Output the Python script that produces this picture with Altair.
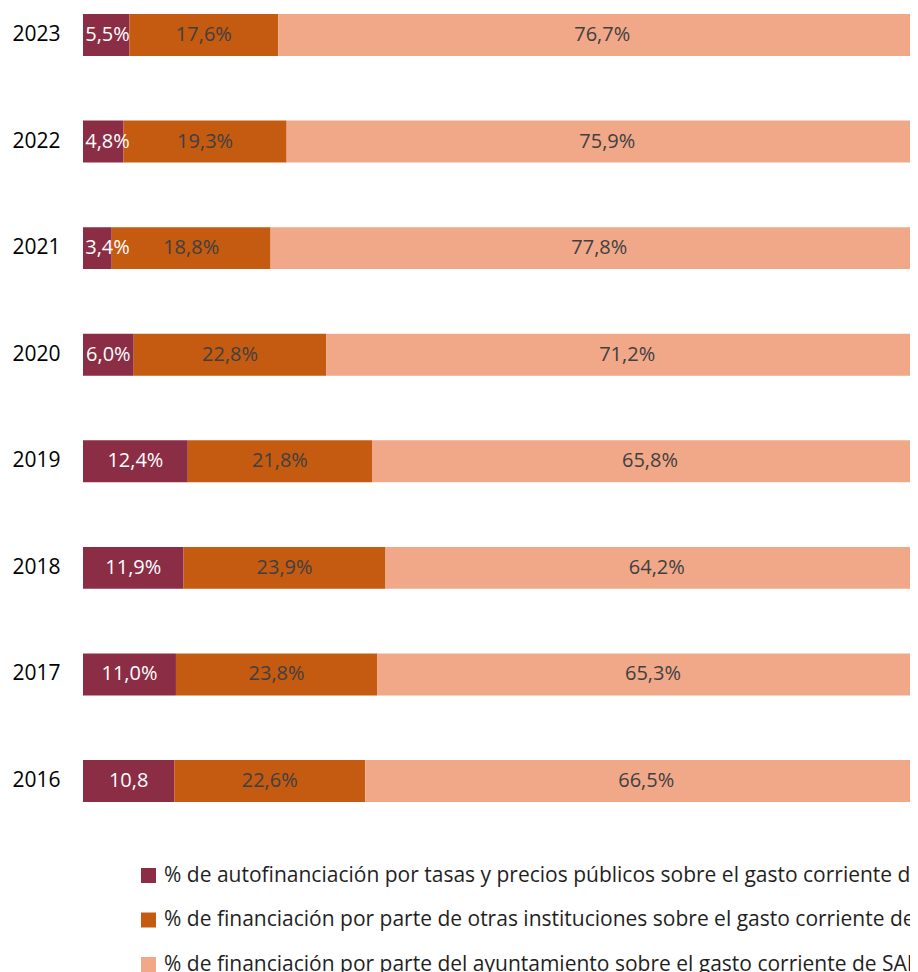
import altair as alt
import pandas as pd

years = ["2023", "2022", "2021", "2020", "2019", "2018", "2017", "2016"]
series = [
    "% de autofinanciación por tasas y precios públicos sobre el gasto corriente de SAMU",
    "% de financiación por parte de otras instituciones sobre el gasto corriente de SAMU",
    "% de financiación por parte del ayuntamiento sobre el gasto corriente de SAMU",
]
auto = [5.5, 4.8, 3.4, 6.0, 12.4, 11.9, 11.0, 10.8]
otras = [17.6, 19.3, 18.8, 22.8, 21.8, 23.9, 23.8, 22.6]
ayto = [76.7, 75.9, 77.8, 71.2, 65.8, 64.2, 65.3, 66.5]
auto_labels = ["5,5%", "4,8%", "3,4%", "6,0%", "12,4%", "11,9%", "11,0%", "10,8"]
colors = ["#8B2D45", "#C55A11", "#F1A889"]

def fmt(v):
    return f"{v:.1f}".replace(".", ",") + "%"

rows = []
for i, y in enumerate(years):
    rows.append({"year": y, "serie": series[0], "order": 0, "value": auto[i], "label": auto_labels[i]})
    rows.append({"year": y, "serie": series[1], "order": 1, "value": otras[i], "label": fmt(otras[i])})
    rows.append({"year": y, "serie": series[2], "order": 2, "value": ayto[i], "label": fmt(ayto[i])})
df = pd.DataFrame(rows)

FONT = "Open Sans"
xscale = alt.Scale(domain=[0, 100], range=[0, 845])
yscale = alt.Scale(paddingInner=0.606, paddingOuter=0.056)

base = alt.Chart(df).transform_stack(
    stack="value", groupby=["year"], sort=[alt.SortField("order", order="ascending")], as_=["x0", "x1"]
).transform_calculate(
    lx="datum.order == 0 ? max((datum.x0 + datum.x1) / 2, 2.9) : (datum.x0 + datum.x1) / 2",
)

bars = base.mark_bar().encode(
    x=alt.X("x0:Q", scale=xscale, axis=None),
    x2="x1:Q",
    y=alt.Y("year:N", sort=years, scale=yscale,
            axis=alt.Axis(title=None, ticks=False, domain=False, labelFont=FONT,
                          labelFontSize=21, labelColor="#000000", labelPadding=23)),
    color=alt.Color("serie:N", scale=alt.Scale(domain=series, range=colors),
                    legend=alt.Legend(title=None, orient="none", legendX=55, legendY=857,
                                      direction="vertical", symbolType="square", symbolSize=225,
                                      symbolStrokeWidth=0, labelFont=FONT, labelFontSize=21,
                                      labelColor="#1F1F1F", labelLimit=3000, rowPadding=22.5,
                                      labelOffset=5)),
)

text = base.mark_text(font=FONT, fontSize=20).encode(
    x=alt.X("lx:Q", scale=xscale),
    y=alt.Y("year:N", sort=years, scale=yscale),
    text="label:N",
    color=alt.condition("datum.order == 0", alt.value("#FFFFFF"), alt.value("#404040")),
)

chart = alt.layer(bars, text).properties(
    width=827, height=800,
    autosize=alt.AutoSizeParams(type="none"),
    padding={"left": 75, "top": 0, "right": 0, "bottom": 164},
).configure_view(stroke=None)

chart.save("out.html", embed_options={"renderer": "svg", "actions": False})
